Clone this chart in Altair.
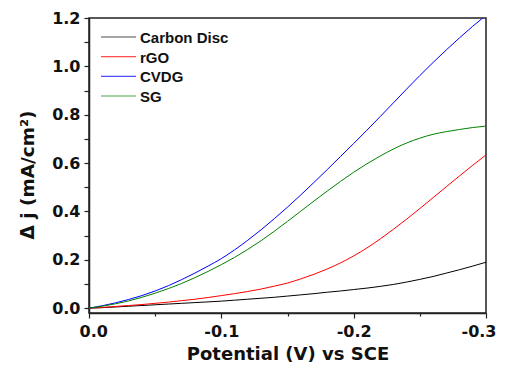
import altair as alt
import pandas as pd

# ---- data ----
potential = [0.00, -0.01, -0.02, -0.03, -0.04, -0.05, -0.06, -0.07, -0.08, -0.09,
             -0.10, -0.11, -0.12, -0.13, -0.14, -0.15, -0.16, -0.17, -0.18, -0.19,
             -0.20, -0.21, -0.22, -0.23, -0.24, -0.25, -0.26, -0.27, -0.28, -0.29, -0.30]
carbon_disc = [0.000, 0.002, 0.005, 0.008, 0.011, 0.014, 0.017, 0.020, 0.023, 0.026,
               0.029, 0.033, 0.037, 0.041, 0.045, 0.050, 0.055, 0.060, 0.066, 0.071,
               0.077, 0.083, 0.090, 0.098, 0.108, 0.119, 0.131, 0.145, 0.159, 0.174, 0.190]
rgo = [0.000, 0.003, 0.007, 0.011, 0.015, 0.020, 0.025, 0.031, 0.037, 0.044,
       0.052, 0.060, 0.069, 0.079, 0.091, 0.104, 0.121, 0.140, 0.162, 0.187,
       0.216, 0.249, 0.286, 0.326, 0.368, 0.412, 0.457, 0.502, 0.547, 0.591, 0.634]
cvdg = [0.000, 0.010, 0.022, 0.036, 0.052, 0.071, 0.093, 0.118, 0.145, 0.174,
        0.205, 0.241, 0.281, 0.324, 0.370, 0.418, 0.468, 0.520, 0.573, 0.627,
        0.681, 0.736, 0.792, 0.849, 0.906, 0.962, 1.016, 1.068, 1.118, 1.166, 1.211]
sg = [0.000, 0.008, 0.018, 0.030, 0.045, 0.062, 0.081, 0.102, 0.126, 0.152,
      0.180, 0.210, 0.243, 0.279, 0.318, 0.359, 0.401, 0.443, 0.484, 0.524,
      0.562, 0.597, 0.629, 0.658, 0.683, 0.703, 0.719, 0.730, 0.739, 0.747, 0.753]

series_names = ["Carbon Disc", "rGO", "CVDG", "SG"]
series_colors = ["#000000", "#ff0000", "#0000ff", "#008000"]

x_tick_values = [0.0, -0.05, -0.1, -0.15, -0.2, -0.25, -0.3]
x_tick_labels = ["0.0", "", "-0.1", "", "-0.2", "", "-0.3"]
y_tick_values = [0.0, 0.1, 0.2, 0.3, 0.4, 0.5, 0.6, 0.7, 0.8, 0.9, 1.0, 1.1, 1.2]
y_tick_labels = ["0.0", "", "0.2", "", "0.4", "", "0.6", "", "0.8", "", "1.0", "", "1.2"]

# ---- tables ----
rows = []
for name, vals in zip(series_names, [carbon_disc, rgo, cvdg, sg]):
    for i, (xv, yv) in enumerate(zip(potential, vals)):
        rows.append({"series": name, "potential": xv, "j": yv, "order": i})
df = pd.DataFrame(rows)
legend_df = pd.DataFrame({"series": series_names})


def label_expr(values, labels):
    expr = "''"
    for v, lab in reversed(list(zip(values, labels))):
        expr = f"abs(datum.value - ({v})) < 1e-6 ? '{lab}' : ({expr})"
    return expr


major_test = "abs(datum.value*10 - round(datum.value*10)) < 1e-6"
tick_size = {"condition": {"test": major_test, "value": 5}, "value": 3}

color_scale = alt.Scale(domain=series_names, range=series_colors)
FRAME = "#222222"

lines = alt.Chart(df).mark_line(strokeWidth=1, clip=True, interpolate="monotone").encode(
    x=alt.X("potential:Q",
            scale=alt.Scale(domain=[0, -0.3], nice=False, zero=False),
            axis=alt.Axis(values=x_tick_values,
                          labelExpr=label_expr(x_tick_values, x_tick_labels),
                          labelFlush=True,
                          labelFlushOffset=10,
                          title="Potential (V) vs SCE",
                          tickSize=tick_size,
                          labelPadding=5,
                          titleX=198.5, titleY=46,
                          titleBaseline="alphabetic",
                          titleFontSize=18)),
    y=alt.Y("j:Q",
            scale=alt.Scale(domain=[-0.02, 1.2], nice=False, zero=False),
            axis=alt.Axis(values=y_tick_values,
                          labelExpr=label_expr(y_tick_values, y_tick_labels),
                          labelFlush=False,
                          title="\u0394 j (mA/cm\u00b2)",
                          tickSize=tick_size,
                          labelPadding=4,
                          titleX=-56, titleY=156.5,
                          titleBaseline="alphabetic",
                          titleFontSize=18.5)),
    color=alt.Color("series:N", scale=color_scale, legend=None),
    detail="series:N",
    order="order:Q",
)

leg_y = alt.Y("series:N", sort=series_names,
              scale=alt.Scale(type="point", domain=series_names, range=[19, 78], padding=0),
              axis=None)

legend_lines = alt.Chart(legend_df).mark_rule(strokeWidth=1.2, opacity=0.7).encode(
    x=alt.value(12), x2=alt.value(47),
    y=leg_y,
    color=alt.Color("series:N", scale=color_scale, legend=None),
)

legend_text = alt.Chart(legend_df).mark_text(
    align="left", baseline="middle", font="Liberation Sans", fontWeight="bold",
    fontSize=15, color="#111111", dy=1
).encode(
    x=alt.value(51),
    y=leg_y,
    text="series:N",
)

chart = alt.layer(lines, legend_lines, legend_text).resolve_scale(
    y="independent"
).properties(
    width=397, height=295,
    autosize=alt.AutoSizeParams(type="none"),
    padding={"left": 81, "top": 10, "right": 11, "bottom": 50},
).configure_view(
    stroke=FRAME, strokeWidth=1.5
).configure_axis(
    grid=False,
    domainColor=FRAME, domainWidth=1.5,
    tickColor=FRAME, tickWidth=1.2,
    labelFont="DejaVu Sans", labelFontWeight="bold", labelFontSize=16, labelColor="#111111",
    titleFont="DejaVu Sans", titleFontWeight="bold", titleColor="#111111",
)

chart.save("out.html", embed_options={"renderer": "svg", "actions": False})
